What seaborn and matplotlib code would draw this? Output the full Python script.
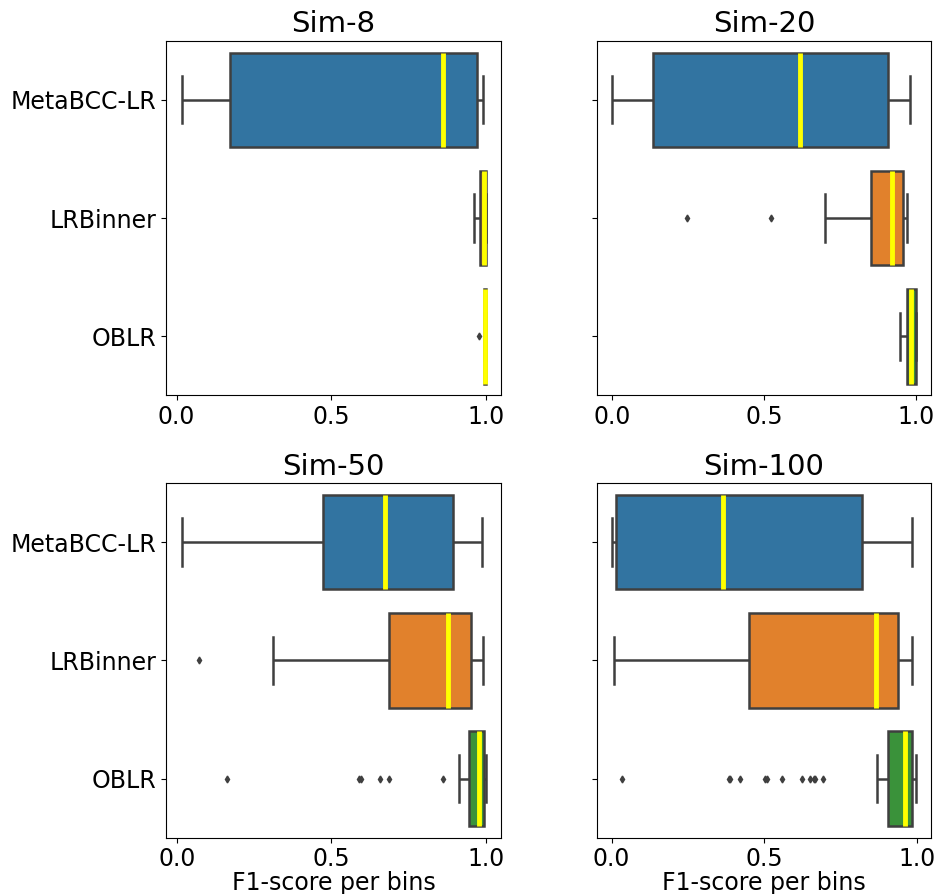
import matplotlib
matplotlib.use("Agg")
import matplotlib.pyplot as plt
import pandas as pd
import seaborn as sns

tools = ["MetaBCC-LR", "LRBinner", "OBLR"]
datasets = ["Sim-8", "Sim-20", "Sim-50", "Sim-100"]

# Per-bin F1-scores for each binner on each simulated dataset
sim8_metabcc = [0.016, 0.174, 0.862, 0.972, 0.990]
sim8_lrbinner = [0.963, 0.982, 0.994, 1.000, 1.000]
sim8_oblr = [0.978, 0.993, 0.995, 0.997, 0.998, 0.999, 1.000, 1.000, 1.000]

sim20_metabcc = [0.000, 0.135, 0.617, 0.909, 0.980]
sim20_lrbinner = [0.246, 0.522, 0.699, 0.851, 0.874, 0.905, 0.922, 0.934,
                  0.945, 0.956, 0.962, 0.967, 0.971]
sim20_oblr = [0.946, 0.969, 0.984, 1.000, 1.000]

sim50_metabcc = [0.014, 0.472, 0.673, 0.894, 0.988]
sim50_lrbinner = [0.072, 0.312, 0.688, 0.803, 0.877, 0.921, 0.953, 0.975, 0.991]
sim50_oblr = [0.160, 0.588, 0.595, 0.657, 0.687, 0.862, 0.914, 0.945,
              0.951, 0.957, 0.962, 0.966, 0.971, 0.975, 0.979, 0.982,
              0.985, 0.987, 0.990, 0.992, 0.994, 0.995, 0.996, 0.997,
              0.998, 1.000, 1.000, 1.000, 1.000]

sim100_metabcc = [0.001, 0.014, 0.365, 0.820, 0.986]
sim100_lrbinner = [0.008, 0.449, 0.867, 0.940, 0.985]
sim100_oblr = [0.034, 0.386, 0.388, 0.422, 0.503, 0.510, 0.558, 0.623,
               0.649, 0.662, 0.667, 0.692, 0.869, 0.907, 0.911, 0.915,
               0.920, 0.924, 0.928, 0.933, 0.937, 0.941, 0.946, 0.950,
               0.954, 0.958, 0.962, 0.964, 0.966, 0.968, 0.970, 0.972,
               0.974, 0.976, 0.978, 0.979, 0.981, 0.983, 0.985, 0.986,
               0.987, 0.988, 0.989, 0.990, 0.991, 0.992, 0.993, 0.994,
               0.995, 0.996, 0.997, 0.998, 0.998]

scores = {
    "Sim-8": [sim8_metabcc, sim8_lrbinner, sim8_oblr],
    "Sim-20": [sim20_metabcc, sim20_lrbinner, sim20_oblr],
    "Sim-50": [sim50_metabcc, sim50_lrbinner, sim50_oblr],
    "Sim-100": [sim100_metabcc, sim100_lrbinner, sim100_oblr],
}

rows = []
for ds in datasets:
    for tool, vals in zip(tools, scores[ds]):
        for v in vals:
            rows.append({"dataset": ds, "tool": tool, "f1": v})
df = pd.DataFrame(rows)

fig, axes = plt.subplots(2, 2, figsize=(9.38, 8.94), dpi=100, sharey=True)
fig.subplots_adjust(left=0.1773, right=0.9929, top=0.9545, bottom=0.063,
                    wspace=0.286, hspace=0.247)

line_gray = "#3f3f3f"
for ax, ds in zip(axes.flat, datasets):
    sub = df[df["dataset"] == ds]
    sns.boxplot(data=sub, x="f1", y="tool", hue="tool", order=tools,
                hue_order=tools, palette="tab10", saturation=0.75,
                legend=False, width=0.8, linewidth=1.8, linecolor=line_gray,
                fliersize=3.5, flierprops={"marker": "d",
                                           "markerfacecolor": line_gray,
                                           "markeredgecolor": line_gray},
                medianprops={"color": "yellow", "linewidth": 3.5},
                ax=ax)
    ax.set_title(ds, fontsize=21)
    ax.set_ylabel("")
    ax.set_xticks([0.0, 0.5, 1.0])
    ax.tick_params(axis="both", labelsize=17)

for ax in axes[0]:
    ax.set_xlabel("")
for ax in axes[1]:
    ax.set_xlabel("F1-score per bins", fontsize=17, labelpad=0)
for ax in axes[:, 1]:
    ax.tick_params(labelleft=False)

fig.savefig("out.png", dpi=100)
